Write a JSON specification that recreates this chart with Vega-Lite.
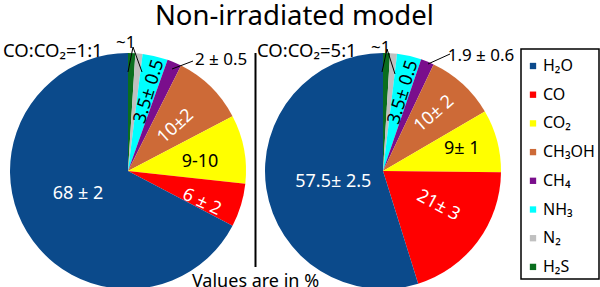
{
  "$schema": "https://vega.github.io/schema/vega-lite/v6.json",
  "padding": {"left": 3, "top": 2, "right": 2, "bottom": 0},
  "bounds": "flush",
  "spacing": 0,
  "config": {
    "font": "Noto Sans",
    "view": {"stroke": null},
    "text": {"font": "Noto Sans"},
    "title": {"fontWeight": "normal", "font": "Noto Sans"},
    "legend": {
      "orient": "none",
      "legendX": 511,
      "legendY": -4,
      "strokeColor": "black",
      "strokeWidth": 1.5,
      "padding": 4,
      "titleFontSize": 5,
      "titlePadding": 0,
      "rowPadding": 12.7,
      "symbolType": "square",
      "symbolSize": 40,
      "symbolStrokeWidth": 0,
      "labelFontSize": 16,
      "labelFont": "Noto Sans",
      "labelColor": "black",
      "labelOffset": 2
    }
  },
  "title": {"text": "Non-irradiated model", "fontSize": 27.5, "anchor": "middle", "dx": -7, "color": "black", "offset": 4},
  "datasets": {
    "gas": [
      {"m": "CO:CO₂=1:1", "sp": "H₂S", "v": 1, "o": 1, "lab": "~1"},
      {"m": "CO:CO₂=1:1", "sp": "N₂", "v": 1, "o": 2, "lab": ""},
      {"m": "CO:CO₂=1:1", "sp": "NH₃", "v": 3.5, "o": 3, "lab": "3.5± 0.5"},
      {"m": "CO:CO₂=1:1", "sp": "CH₄", "v": 2, "o": 4, "lab": "2 ± 0.5"},
      {"m": "CO:CO₂=1:1", "sp": "CH₃OH", "v": 10, "o": 5, "lab": "10±2"},
      {"m": "CO:CO₂=1:1", "sp": "CO₂", "v": 9.5, "o": 6, "lab": "9-10"},
      {"m": "CO:CO₂=1:1", "sp": "CO", "v": 6, "o": 7, "lab": "6 ± 2"},
      {"m": "CO:CO₂=1:1", "sp": "H₂O", "v": 68, "o": 8, "lab": "68 ± 2"},
      {"m": "CO:CO₂=5:1", "sp": "H₂S", "v": 1, "o": 1, "lab": "~1"},
      {"m": "CO:CO₂=5:1", "sp": "N₂", "v": 1, "o": 2, "lab": ""},
      {"m": "CO:CO₂=5:1", "sp": "NH₃", "v": 3.5, "o": 3, "lab": "3.5± 0.5"},
      {"m": "CO:CO₂=5:1", "sp": "CH₄", "v": 1.9, "o": 4, "lab": "1.9 ± 0.6"},
      {"m": "CO:CO₂=5:1", "sp": "CH₃OH", "v": 10, "o": 5, "lab": "10± 2"},
      {"m": "CO:CO₂=5:1", "sp": "CO₂", "v": 9, "o": 6, "lab": "9± 1"},
      {"m": "CO:CO₂=5:1", "sp": "CO", "v": 21, "o": 7, "lab": "21± 3"},
      {"m": "CO:CO₂=5:1", "sp": "H₂O", "v": 57.5, "o": 8, "lab": "57.5± 2.5"}
    ]
  },
  "hconcat": [
    {
      "width": 236,
      "height": 236,
      "data": {"name": "gas"},
      "transform": [
        {"filter": "datum.m === 'CO:CO₂=1:1'"},
        {"stack": "v", "groupby": ["m"], "sort": [{"field": "o", "order": "ascending"}], "as": ["v0", "v1"]}
      ],
      "layer": [
        {
          "mark": {"type": "arc"},
          "encoding": {
            "theta": {"field": "v1", "type": "quantitative"},
            "theta2": {"field": "v0"},
            "color": {"field": "sp", "type": "nominal",
              "legend": {"title": " "},
              "scale": {"domain": ["H₂O", "CO", "CO₂", "CH₃OH", "CH₄", "NH₃", "N₂", "H₂S"],
                        "range": ["#0b4a8b", "#ff0000", "#ffff00", "#cd6a37", "#7a0e8c", "#00ffff", "#c0c0c0", "#0a6e1e"]}}
          }
        },
        {"transform": [{"filter": "datum.o === 8"}],
         "mark": {"type": "text", "dx": -50, "dy": 23, "fill": "white", "fontSize": 18, "align": "center", "baseline": "middle"},
         "encoding": {"text": {"field": "lab"}}},
        {"transform": [{"filter": "datum.o === 7"}],
         "mark": {"type": "text", "dx": 80, "dy": -2.8, "angle": 25, "fill": "white", "fontSize": 18, "align": "center", "baseline": "middle"},
         "encoding": {"text": {"field": "lab"}}},
        {"transform": [{"filter": "datum.o === 6"}],
         "mark": {"type": "text", "dx": 72, "dy": -8.7, "fill": "black", "fontSize": 18, "align": "center", "baseline": "middle"},
         "encoding": {"text": {"field": "lab"}}},
        {"transform": [{"filter": "datum.o === 5"}],
         "mark": {"type": "text", "dx": 65.3, "dy": -1.1, "angle": 318, "fill": "white", "fontSize": 18, "align": "center", "baseline": "middle"},
         "encoding": {"text": {"field": "lab"}}},
        {"transform": [{"filter": "datum.o === 3"}],
         "mark": {"type": "text", "dx": 82.2, "dy": -2.9, "angle": 287, "fill": "black", "fontSize": 18, "align": "center", "baseline": "middle"},
         "encoding": {"text": {"field": "lab"}}},
        {"transform": [{"filter": "datum.o === 4"}],
         "mark": {"type": "text", "radius": 145, "dx": 27.8, "dy": 18.5, "fill": "black", "fontSize": 17, "align": "center", "baseline": "middle"},
         "encoding": {"theta": {"field": "v1", "type": "quantitative"}, "text": {"field": "lab"}}},
        {"transform": [{"filter": "datum.o === 1"}],
         "mark": {"type": "text", "radius": 128, "dx": -2.2, "dy": 0.2, "fill": "black", "fontSize": 17, "align": "center", "baseline": "middle"},
         "encoding": {"theta": {"field": "v0", "type": "quantitative"}, "text": {"field": "lab"}}},
        {"transform": [{"filter": "datum.o === 1"}],
         "mark": {"type": "text", "dx": -125, "dy": -114, "fill": "black", "fontSize": 18.5, "align": "left", "baseline": "alphabetic"},
         "encoding": {"text": {"field": "m"}}},
        {"data": {"values": [{}]}, "mark": {"type": "rule", "color": "black", "strokeWidth": 1},
         "encoding": {"x": {"value": 162}, "y": {"value": 16}, "x2": {"value": 183}, "y2": {"value": 8}}},
        {"data": {"values": [{}]}, "mark": {"type": "rule", "color": "black", "strokeWidth": 1},
         "encoding": {"x": {"value": 123}, "y": {"value": -6}, "x2": {"value": 118}, "y2": {"value": 19}}},
        {"data": {"values": [{}]}, "mark": {"type": "rule", "color": "black", "strokeWidth": 1},
         "encoding": {"x": {"value": 123}, "y": {"value": -6}, "x2": {"value": 132}, "y2": {"value": 19}}}
      ]
    },
    {
      "width": 19,
      "height": 214,
      "title": {"text": "Values are in %", "orient": "bottom", "anchor": "middle", "frame": "group", "fontSize": 18, "offset": 5, "color": "black"},
      "data": {"values": [{"c": 0}]},
      "mark": {"type": "rule", "color": "black", "strokeWidth": 2},
      "encoding": {"x": {"field": "c", "type": "quantitative", "scale": {"domain": [-1, 1]}, "axis": null}}
    },
    {
      "width": 236,
      "height": 236,
      "data": {"name": "gas"},
      "transform": [
        {"filter": "datum.m === 'CO:CO₂=5:1'"},
        {"stack": "v", "groupby": ["m"], "sort": [{"field": "o", "order": "ascending"}], "as": ["v0", "v1"]}
      ],
      "layer": [
        {
          "mark": {"type": "arc"},
          "encoding": {
            "theta": {"field": "v1", "type": "quantitative"},
            "theta2": {"field": "v0"},
            "color": {"field": "sp", "type": "nominal",
              "legend": {"title": " "},
              "scale": {"domain": ["H₂O", "CO", "CO₂", "CH₃OH", "CH₄", "NH₃", "N₂", "H₂S"],
                        "range": ["#0b4a8b", "#ff0000", "#ffff00", "#cd6a37", "#7a0e8c", "#00ffff", "#c0c0c0", "#0a6e1e"]}}
          }
        },
        {"transform": [{"filter": "datum.o === 8"}],
         "mark": {"type": "text", "dx": -49.7, "dy": 10.5, "fill": "white", "fontSize": 18, "align": "center", "baseline": "middle"},
         "encoding": {"text": {"field": "lab"}}},
        {"transform": [{"filter": "datum.o === 7"}],
         "mark": {"type": "text", "dx": 65.1, "dy": 4.6, "angle": 28, "fill": "white", "fontSize": 18, "align": "center", "baseline": "middle"},
         "encoding": {"text": {"field": "lab"}}},
        {"transform": [{"filter": "datum.o === 6"}],
         "mark": {"type": "text", "dx": 78.7, "dy": -22, "fill": "black", "fontSize": 18, "align": "center", "baseline": "middle"},
         "encoding": {"text": {"field": "lab"}}},
        {"transform": [{"filter": "datum.o === 5"}],
         "mark": {"type": "text", "dx": 76, "dy": -9.4, "angle": 319, "fill": "white", "fontSize": 18, "align": "center", "baseline": "middle"},
         "encoding": {"text": {"field": "lab"}}},
        {"transform": [{"filter": "datum.o === 3"}],
         "mark": {"type": "text", "dx": 81.2, "dy": -3.6, "angle": 287, "fill": "black", "fontSize": 18, "align": "center", "baseline": "middle"},
         "encoding": {"text": {"field": "lab"}}},
        {"transform": [{"filter": "datum.o === 4"}],
         "mark": {"type": "text", "radius": 151, "dx": 33.2, "dy": 21.4, "fill": "black", "fontSize": 17, "align": "center", "baseline": "middle"},
         "encoding": {"theta": {"field": "v1", "type": "quantitative"}, "text": {"field": "lab"}}},
        {"transform": [{"filter": "datum.o === 1"}],
         "mark": {"type": "text", "radius": 123, "dx": -2.2, "dy": 0, "fill": "black", "fontSize": 17, "align": "center", "baseline": "middle"},
         "encoding": {"theta": {"field": "v0", "type": "quantitative"}, "text": {"field": "lab"}}},
        {"transform": [{"filter": "datum.o === 1"}],
         "mark": {"type": "text", "dx": -126, "dy": -114, "fill": "black", "fontSize": 18.5, "align": "left", "baseline": "alphabetic"},
         "encoding": {"text": {"field": "m"}}},
        {"data": {"values": [{}]}, "mark": {"type": "rule", "color": "black", "strokeWidth": 1},
         "encoding": {"x": {"value": 163}, "y": {"value": 11}, "x2": {"value": 185}, "y2": {"value": 1}}},
        {"data": {"values": [{}]}, "mark": {"type": "rule", "color": "black", "strokeWidth": 1},
         "encoding": {"x": {"value": 122}, "y": {"value": -4}, "x2": {"value": 117}, "y2": {"value": 19}}},
        {"data": {"values": [{}]}, "mark": {"type": "rule", "color": "black", "strokeWidth": 1},
         "encoding": {"x": {"value": 122}, "y": {"value": -4}, "x2": {"value": 130}, "y2": {"value": 21}}}
      ]
    }
  ]
}
